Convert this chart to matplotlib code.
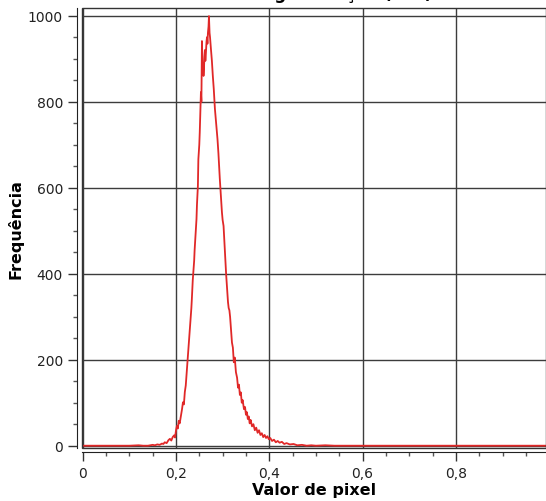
import matplotlib
matplotlib.use("Agg")
import matplotlib.pyplot as plt
from matplotlib.patches import Rectangle
from matplotlib.ticker import MultipleLocator, FixedLocator

# histogram (pixel value, count)
pix = [0.0, 0.05, 0.10, 0.12, 0.13, 0.14, 0.15, 0.155, 0.16, 0.165, 0.17, 0.173,
       0.176, 0.18, 0.184, 0.187, 0.19, 0.193, 0.196, 0.198, 0.200, 0.202, 0.204,
       0.206, 0.208, 0.211, 0.213, 0.215, 0.217, 0.219, 0.221, 0.223, 0.225, 0.227,
       0.229, 0.231, 0.233, 0.234, 0.236, 0.237, 0.239, 0.240, 0.242, 0.244, 0.245,
       0.247, 0.248, 0.250, 0.251, 0.2525, 0.2535, 0.2545, 0.2557, 0.257, 0.258,
       0.259, 0.260, 0.261, 0.262, 0.263, 0.264, 0.2655, 0.2665, 0.2675, 0.2685,
       0.2698, 0.2707, 0.272, 0.273, 0.274, 0.275, 0.277, 0.279, 0.281, 0.2835,
       0.286, 0.289, 0.291, 0.294, 0.296, 0.2985, 0.300, 0.302, 0.304, 0.305,
       0.3075, 0.3095, 0.3115, 0.313, 0.3145, 0.316, 0.318, 0.320, 0.322, 0.324,
       0.326, 0.3285, 0.331, 0.333, 0.335, 0.337, 0.339, 0.341, 0.343, 0.3457,
       0.348, 0.350, 0.352, 0.354, 0.356, 0.358, 0.360, 0.363, 0.366, 0.369, 0.372,
       0.375, 0.378, 0.381, 0.384, 0.387, 0.390, 0.393, 0.396, 0.399, 0.402, 0.406,
       0.410, 0.414, 0.418, 0.422, 0.427, 0.432, 0.437, 0.444, 0.452, 0.46, 0.47,
       0.48, 0.49, 0.50, 0.52, 0.54, 0.56, 0.60, 0.70, 0.80, 0.90, 0.993]
freq = [0, 0, 0, 1, 0, 0, 2, 1, 3, 2, 5, 4,
        8, 6, 13, 16, 12, 20, 24, 19, 35, 46, 40,
        58, 52, 72, 85, 101, 96, 125, 140, 170, 197, 232,
        262, 290, 320, 340, 385, 399, 430, 455, 490, 527, 560,
        604, 666, 700, 729, 780, 822, 800, 941, 870, 890,
        860, 876, 905, 920, 895, 910, 940, 950, 935, 960,
        975, 999, 960, 950, 935, 922, 895, 860, 830, 783,
        750, 713, 680, 620, 585, 543, 525, 511, 470, 450,
        399, 365, 334, 320, 315, 300, 271, 240, 228, 194,
        205, 171, 158, 135, 142, 118, 124, 100, 106, 85,
        90, 72, 78, 62, 68, 52, 60, 45, 50, 36, 42,
        30, 36, 25, 29, 20, 25, 18, 22, 15, 18, 11,
        14, 8, 11, 7, 9, 4, 6, 3, 4, 1, 2,
        0, 1, 0, 1, 0, 0, 0, 0, 0, 0, 0]

xticks = [0, 0.2, 0.4, 0.6, 0.8]
xtick_labels = ["0", "0,2", "0,4", "0,6", "0,8"]
yticks = [0, 200, 400, 600, 800, 1000]

fig = plt.figure(figsize=(5.46, 5.02), dpi=100)
ax = fig.add_axes([81.7 / 546, 53.4 / 502, 1 - 81.7 / 546, 439.9 / 502])

ax.plot(pix, freq, color="#e02828", lw=1.3, zorder=3)

ax.set_xlim(-0.002, 0.993)
ax.set_ylim(-4.4, 1018.6)

ax.xaxis.set_major_locator(FixedLocator(xticks))
ax.set_xticklabels(xtick_labels)
ax.xaxis.set_minor_locator(MultipleLocator(0.05))
ax.yaxis.set_major_locator(FixedLocator(yticks))
ax.yaxis.set_minor_locator(MultipleLocator(50))

ax.grid(True, which="major", color="#3c3c3c", lw=1.0, zorder=1)

for s in ["left", "bottom"]:
    ax.spines[s].set_position(("outward", 3.5))
    ax.spines[s].set_color("#222222")
for s in ["top", "right"]:
    ax.spines[s].set_visible(False)
ax.add_patch(Rectangle((0, 0), 1, 1, transform=ax.transAxes, fill=False,
                       ec="#333333", lw=1.0, zorder=4, clip_on=False))

ax.tick_params(which="major", direction="out", length=6.5, width=1,
               color="#333333", labelsize=10, labelcolor="#222222")
ax.tick_params(which="minor", direction="out", length=3, width=1, color="#555555")

ax.set_xlabel("Valor de pixel", fontsize=11.5, fontweight="bold", labelpad=1)
ax.set_ylabel("Frequência", fontsize=11.5, fontweight="bold", labelpad=3)

# title sits mostly above the picture, only its descenders show
fig.text(0.626, 1.002, "Segmentação (ROI)", ha="center", va="baseline",
         fontsize=12, fontweight="bold")

fig.savefig("out.png", dpi=100)
